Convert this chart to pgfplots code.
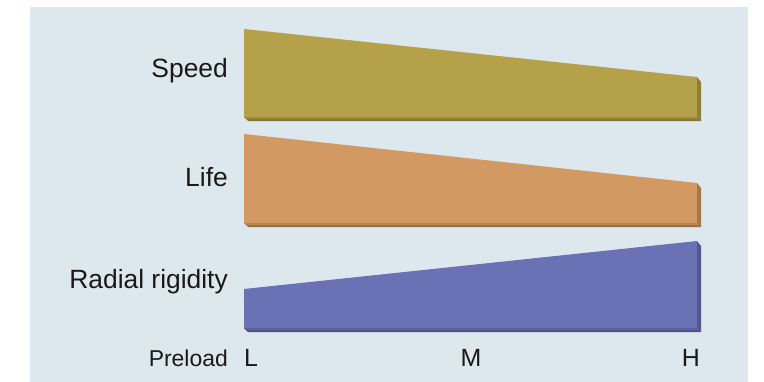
\documentclass[border=0pt]{standalone}
\usepackage{pgfplots}
\pgfplotsset{compat=1.18}
\usepackage{fontspec}
\setmainfont{Liberation Sans}
\definecolor{bg}{RGB}{221,231,238}
\definecolor{spd}{RGB}{181,161,74}
\colorlet{spdS}{spd!78!black}
\colorlet{spdB}{spd!72!black}
\colorlet{spdM}{spd!87!black}
\definecolor{lif}{RGB}{210,154,98}
\colorlet{lifS}{lif!78!black}
\colorlet{lifB}{lif!72!black}
\colorlet{lifM}{lif!87!black}
\definecolor{rad}{RGB}{107,113,181}
\colorlet{radS}{rad!78!black}
\colorlet{radB}{rad!72!black}
\colorlet{radM}{rad!87!black}
\begin{document}
\begin{tikzpicture}
\begin{axis}[
  width=764bp, height=382bp, scale only axis,
  xmin=0, xmax=764, ymin=0, ymax=382, y dir=reverse,
  hide axis, clip=false]
\fill[white] (axis cs:0,0) rectangle (axis cs:764,382);
\fill[bg] (axis cs:30,7) rectangle (axis cs:748,382);
% Speed
\addplot[fill=spd, draw=none] coordinates {(244,29) (697,77) (697,117) (244,117)} -- cycle;
\addplot[fill=spdS, draw=none] coordinates {(697,77) (701,82) (701,121) (697,117)} -- cycle;
\addplot[fill=spdB, draw=none] coordinates {(244,117) (248,121) (701,121) (697,117)} -- cycle;
\addplot[fill=spdM, draw=none] coordinates {(244,117) (246,119) (699,119) (697,117)} -- cycle;
% Life
\addplot[fill=lif, draw=none] coordinates {(244,134) (697,183) (697,223) (244,223)} -- cycle;
\addplot[fill=lifS, draw=none] coordinates {(697,183) (701,188) (701,227) (697,223)} -- cycle;
\addplot[fill=lifB, draw=none] coordinates {(244,223) (248,227) (701,227) (697,223)} -- cycle;
\addplot[fill=lifM, draw=none] coordinates {(244,223) (246,225) (699,225) (697,223)} -- cycle;
% Radial rigidity
\addplot[fill=rad, draw=none] coordinates {(244,289) (697,241) (697,328) (244,328)} -- cycle;
\addplot[fill=radS, draw=none] coordinates {(697,241) (701,246) (701,332) (697,328)} -- cycle;
\addplot[fill=radB, draw=none] coordinates {(244,328) (248,332) (701,332) (697,328)} -- cycle;
\addplot[fill=radM, draw=none] coordinates {(244,328) (246,330) (699,330) (697,328)} -- cycle;
% labels
\node[anchor=east, inner sep=0pt, font=\fontsize{26.5}{30}\selectfont, text=black!90] at (axis cs:228,71) {Speed};
\node[anchor=east, inner sep=0pt, font=\fontsize{26.5}{30}\selectfont, text=black!90] at (axis cs:228,177) {Life};
\node[anchor=east, inner sep=0pt, font=\fontsize{26.5}{30}\selectfont, text=black!90] at (axis cs:228,282) {Radial rigidity};
\node[anchor=base east, inner sep=0pt, font=\fontsize{23}{27}\selectfont, text=black!90] at (axis cs:228,366) {Preload};
\node[anchor=base west, inner sep=0pt, font=\fontsize{25}{29}\selectfont, text=black!90] at (axis cs:244,366) {L};
\node[anchor=base, inner sep=0pt, font=\fontsize{25}{29}\selectfont, text=black!90] at (axis cs:471,366) {M};
\node[anchor=base east, inner sep=0pt, font=\fontsize{25}{29}\selectfont, text=black!90] at (axis cs:700,366) {H};
\end{axis}
\end{tikzpicture}
\end{document}
